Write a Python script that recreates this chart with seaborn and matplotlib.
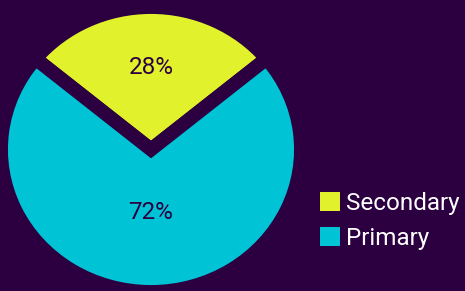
import matplotlib
matplotlib.use("Agg")
import matplotlib.pyplot as plt
import seaborn as sns
from matplotlib.patches import Patch

categories = ["Secondary", "Primary"]
values = [28, 72]
colors = ["#e1f22c", "#00c4d6"]
label_y = [0.575, -0.445]

BG = "#2c0040"

sns.set_theme(style="white")
plt.rcParams["font.family"] = ["Roboto", "DejaVu Sans"]

fig = plt.figure(figsize=(4.65, 2.91), dpi=100, facecolor=BG)
W, H = 465, 291
cx, cy = 151, 149.5
rx, ry = 150, 142.5
ax = fig.add_axes([(cx - rx) / W, (H - cy - ry) / H, 2 * rx / W, 2 * ry / H])
ax.set_facecolor(BG)

start = 90 - values[0] / sum(values) * 360 / 2
wedges, texts, autotexts = ax.pie(
    values, colors=colors, startangle=start, counterclock=True,
    autopct="%1.0f%%", pctdistance=0.5, radius=1,
    wedgeprops=dict(edgecolor=BG, linewidth=10, joinstyle="miter"),
    textprops=dict(color=BG, fontsize=17.5, fontweight="normal"),
)
for t, y in zip(autotexts, label_y):
    t.set_position((0, y))
    t.set_ha("center")
    t.set_va("center")
ax.set_aspect("auto")
ax.set_xlim(-1, 1)
ax.set_ylim(-1, 1)
ax.axis("off")

handles = [Patch(facecolor=c, edgecolor="none") for c in colors]
leg = fig.legend(
    handles, categories, loc="upper left",
    bbox_to_anchor=(320 / W, 1 - 192 / H), frameon=False,
    fontsize=17.5, handlelength=0.82, handleheight=0.82,
    handletextpad=0.25, labelspacing=0.48, borderpad=0, borderaxespad=0,
)
for t in leg.get_texts():
    t.set_color("white")

fig.savefig("out.png", dpi=100, facecolor=BG)
